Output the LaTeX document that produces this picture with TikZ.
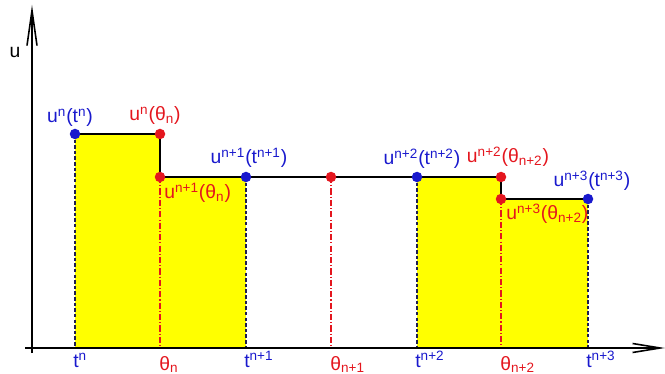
\documentclass[tikz,border=0pt]{standalone}
\usepackage{fontspec}
\setmainfont{Liberation Sans}
\usetikzlibrary{arrows.meta}

\definecolor{ublue}{RGB}{25,25,205}
\definecolor{ured}{RGB}{228,22,30}
\definecolor{uyellow}{RGB}{255,255,0}
\definecolor{unavy}{RGB}{30,30,80}

\tikzset{
  bdot/.style={circle,fill=ublue,inner sep=0pt,minimum size=2.1mm},
  rdot/.style={circle,fill=ured,inner sep=0pt,minimum size=2.1mm},
  blab/.style={text=ublue,inner sep=0pt,font=\fontsize{11}{13}\selectfont},
  rlab/.style={text=ured,inner sep=0pt,font=\fontsize{11}{13}\selectfont},
  tdash/.style={unavy,line width=0.6pt,dash pattern=on 2pt off 1.2pt},
  thdash/.style={ured,line width=0.6pt,dash pattern=on 3.5pt off 1.2pt on 0.6pt off 1.2pt},
}

\begin{document}
\begin{tikzpicture}[x=0.02cm,y=-0.02cm]
  \useasboundingbox (0,0) rectangle (665,374);
  % axes ends
  \coordinate (o) at (32,348);
  \coordinate (xs) at (25,348);
  \coordinate (xe) at (665,348);
  \coordinate (ys) at (32,353);
  \coordinate (ye) at (32,5);
  % solution values
  \coordinate (a) at (75,134);
  \coordinate (b) at (160,134);
  \coordinate (c) at (160,177);
  \coordinate (d) at (246,177);
  \coordinate (e) at (331,177);
  \coordinate (f) at (417,177);
  \coordinate (g) at (501,177);
  \coordinate (h) at (501,199);
  \coordinate (k) at (588,199);

  % yellow steps
  \fill[uyellow] (a) rectangle (b |- o);
  \fill[uyellow] (c) rectangle (d |- o);
  \fill[uyellow] (f) rectangle (g |- o);
  \fill[uyellow] (h) rectangle (k |- o);

  % verticals down to the axis
  \foreach \p in {a,d,f,k}
    \draw[tdash] (\p) -- (\p |- o);
  \foreach \p in {c,e,h}
    \draw[thdash] (\p) -- (\p |- o);

  % the solution
  \draw[line width=1.1pt] (a) -- (b) -- (c) -- (g) -- (h) -- (k);

  % axes
  \draw[-{Straight Barb[length=5.5mm,width=1.8mm]},line width=0.9pt] (xs) -- (xe);
  \draw[-{Straight Barb[length=7mm,width=2mm]},line width=0.9pt] (ys) -- (ye);
  \node[inner sep=0pt,font=\fontsize{11}{13}\selectfont] (u) at (15,52) {u};

  % points
  \foreach \p in {a,d,f,k}
    \node[bdot] (\p dot) at (\p) {};
  \foreach \p in {b,c,e,g,h}
    \node[rdot] (\p dot) at (\p) {};

  % values
  \node[blab,anchor=base] (la) at (70,123) {u\textsuperscript{n}(t\textsuperscript{n})};
  \node[rlab,anchor=base] (lb) at (155,121) {u\textsuperscript{n}(θ\textsubscript{n})};
  \node[blab,anchor=base] (ld) at (249,164) {u\textsuperscript{n+1}(t\textsuperscript{n+1})};
  \node[rlab,anchor=base west] (lc) at (164,199) {u\textsuperscript{n+1}(θ\textsubscript{n})};
  \node[blab,anchor=base] (lf) at (422,165) {u\textsuperscript{n+2}(t\textsuperscript{n+2})};
  \node[rlab,anchor=base] (lg) at (508,163) {u\textsuperscript{n+2}(θ\textsubscript{n+2})};
  \node[blab,anchor=base] (lk) at (592,187) {u\textsuperscript{n+3}(t\textsuperscript{n+3})};
  \node[rlab,anchor=base west] (lh) at (506,220) {u\textsuperscript{n+3}(θ\textsubscript{n+2})};

  % times on the axis
  \node[blab,anchor=base west] (ta) at (73,367) {t\textsuperscript{n}};
  \node[rlab,anchor=base west] (tb) at (159,370) {θ\textsubscript{n}};
  \node[blab,anchor=base west] (td) at (244,367) {t\textsuperscript{n+1}};
  \node[rlab,anchor=base west] (te) at (330,370) {θ\textsubscript{n+1}};
  \node[blab,anchor=base west] (tf) at (415,367) {t\textsuperscript{n+2}};
  \node[rlab,anchor=base west] (tg) at (500,370) {θ\textsubscript{n+2}};
  \node[blab,anchor=base west] (tk) at (586,367) {t\textsuperscript{n+3}};
\end{tikzpicture}
\end{document}
